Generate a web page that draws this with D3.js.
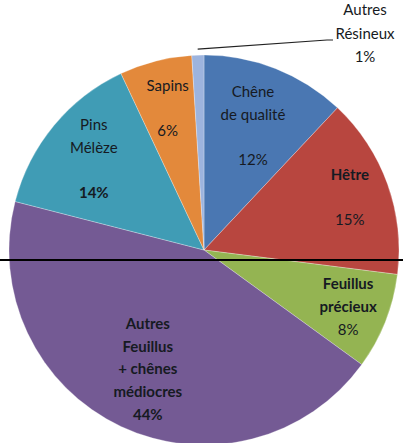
<!DOCTYPE html>
<html>
<head>
<meta charset="utf-8">
<script src="https://cdn.jsdelivr.net/npm/d3@7"></script>
<style>
  body { margin: 0; background: #fff; }
  svg { display: block; }
</style>
</head>
<body>
<div id="chart"></div>
<script>
// volumes par essence, dans l'ordre du graphique (sens horaire depuis midi)
var essences = ["Chêne de qualité", "Hêtre", "Feuillus précieux", "Autres Feuillus + chênes médiocres", "Pins Mélèze", "Sapins", "Autres Résineux"]
var parts = [12, 15, 8, 44, 14, 6, 1]
var etiquettes = [
  ["Chêne", "de qualité", ""],
  ["Hêtre", ""],
  ["Feuillus", "précieux"],
  ["Autres", "Feuillus", "+ chênes", "médiocres"],
  ["Pins", "Mélèze", ""],
  ["Sapins", ""],
  ["Autres", "Résineux"]
]

var width = 403,
  height = 443;

var svg = d3.select("#chart")
  .append("svg")
  .attr("width", width)
  .attr("height", height)

var cx = 204, cy = 250, radius = 195

var colors = d3.scaleOrdinal()
  .domain(essences)
  .range(["#4a77b2", "#b8463f", "#94b452", "#745a94", "#409cb5", "#e3893b", "#9db4de"])

var pie = d3.pie()
  .sort(null)
  .value(function (d) { return d.value })

var data = essences.map(function (e, i) {
  return { name: e, value: parts[i], lines: etiquettes[i] }
})

var arcs = pie(data)

var arc = d3.arc().innerRadius(0).outerRadius(radius)

var g = svg.append("g").attr("transform", "translate(" + cx + "," + cy + ")")

g.selectAll("path")
  .data(arcs)
  .enter()
  .append("path")
  .attr("d", arc)
  .attr("fill", function (d) { return colors(d.data.name) })
  .attr("stroke", "rgba(255,255,255,0.35)")
  .attr("stroke-width", 0.8)

// rayon des étiquettes (Excel rapproche les gros blocs du centre)
var labelR = { "Chêne de qualité": 133, "Autres Feuillus + chênes médiocres": 132, "Pins Mélèze": 143, "Sapins": 146 }
var boldName = ["Hêtre", "Feuillus précieux", "Autres Feuillus + chênes médiocres"]
var boldPct = ["Autres Feuillus + chênes médiocres", "Pins Mélèze"]
var lineH = 22.7

var inside = arcs.filter(function (d) { return d.data.value >= 5 })

var labels = g.selectAll("text.lab")
  .data(inside)
  .enter()
  .append("text")
  .attr("class", "lab")
  .attr("text-anchor", "middle")
  .style("font-family", "Lato, 'Open Sans', sans-serif")
  .style("font-size", "15px")
  .attr("fill", "#161a22")
  .attr("transform", function (d) {
    var r = labelR[d.data.name] || 155
    var c = d3.arc().innerRadius(r).outerRadius(r).centroid(d)
    return "translate(" + c[0] + "," + c[1] + ")"
  })

labels.each(function (d) {
  var lines = d.data.lines.concat([d3.format(".0f")(d.data.value) + "%"])
  var t = d3.select(this)
  var y0 = -(lines.length - 1) * lineH / 2 + 5
  lines.forEach(function (l, i) {
    var isPct = i == lines.length - 1
    var b = isPct ? boldPct.indexOf(d.data.name) >= 0 : boldName.indexOf(d.data.name) >= 0
    t.append("tspan")
      .attr("x", 0)
      .attr("y", y0 + i * lineH)
      .style("font-weight", b ? 700 : 400)
      .text(l)
  })
})

// petite part : étiquette à l'extérieur avec trait de rappel
var small = arcs.filter(function (d) { return d.data.value < 5 })[0]
var mid = (small.startAngle + small.endAngle) / 2
var p0 = [Math.sin(mid) * (radius + 6), -Math.cos(mid) * (radius + 6)]
var tx = width - 38 - cx, ty = 34 - cy

g.append("path")
  .attr("d", d3.line()([p0, [tx - 38, ty + 6], [tx - 32, ty + 6]]))
  .attr("fill", "none")
  .attr("stroke", "#222")
  .attr("stroke-width", 1.2)

var outText = g.append("text")
  .attr("text-anchor", "middle")
  .style("font-family", "Lato, 'Open Sans', sans-serif")
  .style("font-size", "15px")
  .attr("fill", "#161a22")

small.data.lines.concat([small.data.value + "%"]).forEach(function (l, i) {
  outText.append("tspan")
    .attr("x", tx)
    .attr("y", ty - 24 + 5 + i * 23.5)
    .text(l)
})

// trait horizontal noir
svg.append("line")
  .attr("x1", 0)
  .attr("x2", width)
  .attr("y1", 260)
  .attr("y2", 260)
  .attr("stroke", "#000")
  .attr("stroke-width", 2)
</script>
</body>
</html>
